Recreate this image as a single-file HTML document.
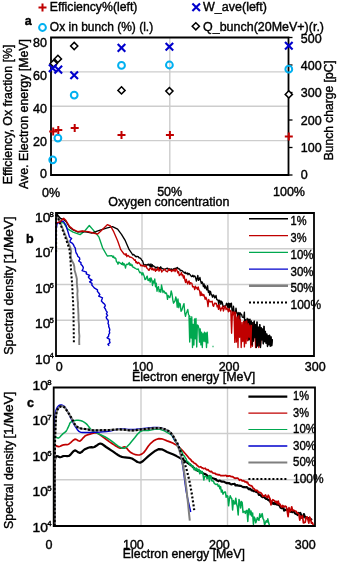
<!DOCTYPE html>
<html><head><meta charset="utf-8"><style>
html,body{margin:0;padding:0;background:#fff;width:342px;height:562px;overflow:hidden}
svg{display:block;will-change:transform}
text{font-family:"Liberation Sans", sans-serif;fill:#000;stroke:#000;stroke-width:0.4px}
</style></head><body>
<svg width="342" height="562" viewBox="0 0 342 562">
<line x1="51" y1="71.9" x2="288.5" y2="71.9" stroke="#cdcdcd" stroke-width="1.4"/>
<line x1="51" y1="106.2" x2="288.5" y2="106.2" stroke="#cdcdcd" stroke-width="1.4"/>
<line x1="51" y1="140.6" x2="288.5" y2="140.6" stroke="#cdcdcd" stroke-width="1.4"/>
<line x1="169.8" y1="37.5" x2="169.8" y2="175" stroke="#cdcdcd" stroke-width="1.4"/>
<path d="M51 37.5 H288.5 V175 H51 Z" fill="none" stroke="#000" stroke-width="1.8"/>
<line x1="288.5" y1="37.5" x2="292.5" y2="37.5" stroke="#000" stroke-width="1.3"/>
<line x1="288.5" y1="65" x2="292.5" y2="65" stroke="#000" stroke-width="1.3"/>
<line x1="288.5" y1="92.5" x2="292.5" y2="92.5" stroke="#000" stroke-width="1.3"/>
<line x1="288.5" y1="120" x2="292.5" y2="120" stroke="#000" stroke-width="1.3"/>
<line x1="288.5" y1="147.5" x2="292.5" y2="147.5" stroke="#000" stroke-width="1.3"/>
<line x1="288.5" y1="175" x2="292.5" y2="175" stroke="#000" stroke-width="1.3"/>
<path d="M53.7 59.9 L57.3 63.5 L53.7 67.1 L50.1 63.5 Z" stroke="#000" stroke-width="1.5" fill="#fff"/>
<path d="M57.9 55.3 L61.5 58.9 L57.9 62.5 L54.3 58.9 Z" stroke="#000" stroke-width="1.5" fill="#fff"/>
<path d="M74.2 42.4 L77.8 46 L74.2 49.6 L70.6 46 Z" stroke="#000" stroke-width="1.5" fill="#fff"/>
<path d="M121.5 86.8 L125.1 90.4 L121.5 94 L117.9 90.4 Z" stroke="#000" stroke-width="1.5" fill="#fff"/>
<path d="M169.4 87.5 L173 91.1 L169.4 94.7 L165.8 91.1 Z" stroke="#000" stroke-width="1.5" fill="#fff"/>
<path d="M288.8 90.8 L292.4 94.4 L288.8 98 L285.2 94.4 Z" stroke="#000" stroke-width="1.5" fill="#fff"/>
<path d="M48.9 64.4 L56.5 72 M48.9 72 L56.5 64.4" stroke="#0000cc" stroke-width="2.1" fill="none"/>
<path d="M54.5 65.8 L62.1 73.4 M54.5 73.4 L62.1 65.8" stroke="#0000cc" stroke-width="2.1" fill="none"/>
<path d="M70.4 71.4 L78 79 M70.4 79 L78 71.4" stroke="#0000cc" stroke-width="2.1" fill="none"/>
<path d="M117.7 44.1 L125.3 51.7 M117.7 51.7 L125.3 44.1" stroke="#0000cc" stroke-width="2.1" fill="none"/>
<path d="M165.6 42.9 L173.2 50.5 M165.6 50.5 L173.2 42.9" stroke="#0000cc" stroke-width="2.1" fill="none"/>
<path d="M285 41.9 L292.6 49.5 M285 49.5 L292.6 41.9" stroke="#0000cc" stroke-width="2.1" fill="none"/>
<circle cx="52.7" cy="159.8" r="3.4" stroke="#00b0f0" stroke-width="2" fill="none"/>
<circle cx="57.9" cy="138.1" r="3.4" stroke="#00b0f0" stroke-width="2" fill="none"/>
<circle cx="74.2" cy="95.1" r="3.4" stroke="#00b0f0" stroke-width="2" fill="none"/>
<circle cx="121.5" cy="65.4" r="3.4" stroke="#00b0f0" stroke-width="2" fill="none"/>
<circle cx="169.4" cy="65" r="3.4" stroke="#00b0f0" stroke-width="2" fill="none"/>
<circle cx="288.8" cy="69.2" r="3.4" stroke="#00b0f0" stroke-width="2" fill="none"/>
<path d="M49.2 131.5 H57.2 M53.2 127.5 V135.5" stroke="#c00000" stroke-width="2" fill="none"/>
<path d="M54.3 129.9 H62.3 M58.3 125.9 V133.9" stroke="#c00000" stroke-width="2" fill="none"/>
<path d="M70.7 128 H78.7 M74.7 124 V132" stroke="#c00000" stroke-width="2" fill="none"/>
<path d="M117.5 135 H125.5 M121.5 131 V139" stroke="#c00000" stroke-width="2" fill="none"/>
<path d="M165.9 135 H173.9 M169.9 131 V139" stroke="#c00000" stroke-width="2" fill="none"/>
<path d="M284.8 136.6 H292.8 M288.8 132.6 V140.6" stroke="#c00000" stroke-width="2" fill="none"/>
<path d="M38.5 7.4 H46.5 M42.5 3.4 V11.4" stroke="#c00000" stroke-width="2" fill="none"/>
<text x="49.8" y="11" font-size="12.5" text-anchor="start" font-weight="normal" textLength="87.6" lengthAdjust="spacingAndGlyphs">Efficiency%(left)</text>
<text x="24.8" y="24.5" font-size="12.5" text-anchor="start" font-weight="bold">a</text>
<circle cx="42.5" cy="27.5" r="3.4" stroke="#00b0f0" stroke-width="2" fill="none"/>
<text x="49.8" y="31" font-size="12.5" text-anchor="start" font-weight="normal" textLength="103.4" lengthAdjust="spacingAndGlyphs">Ox in bunch (%) (l.)</text>
<path d="M192.4 3.5 L200 11.1 M192.4 11.1 L200 3.5" stroke="#0000cc" stroke-width="2.1" fill="none"/>
<text x="203" y="11" font-size="12.5" text-anchor="start" font-weight="normal" textLength="64" lengthAdjust="spacingAndGlyphs">W_ave(left)</text>
<path d="M195.8 22.7 L199.4 26.3 L195.8 29.9 L192.2 26.3 Z" stroke="#000" stroke-width="1.5" fill="#fff"/>
<text x="203" y="31" font-size="12.5" text-anchor="start" font-weight="normal" textLength="121" lengthAdjust="spacingAndGlyphs">Q_bunch(20MeV+)(r.)</text>
<text x="47" y="46.9" font-size="12.5" text-anchor="end" font-weight="normal">80</text>
<text x="47" y="79.8" font-size="12.5" text-anchor="end" font-weight="normal">60</text>
<text x="47" y="112.8" font-size="12.5" text-anchor="end" font-weight="normal">40</text>
<text x="47" y="145.9" font-size="12.5" text-anchor="end" font-weight="normal">20</text>
<text x="47" y="178" font-size="12.5" text-anchor="end" font-weight="normal">0</text>
<text x="300.8" y="42.6" font-size="12.5" text-anchor="start" font-weight="normal">500</text>
<text x="300.8" y="69.9" font-size="12.5" text-anchor="start" font-weight="normal">400</text>
<text x="300.8" y="97.2" font-size="12.5" text-anchor="start" font-weight="normal">300</text>
<text x="300.8" y="124.5" font-size="12.5" text-anchor="start" font-weight="normal">200</text>
<text x="300.8" y="151.8" font-size="12.5" text-anchor="start" font-weight="normal">100</text>
<text x="300.8" y="179.1" font-size="12.5" text-anchor="start" font-weight="normal">0</text>
<text x="51" y="196.8" font-size="12.5" text-anchor="middle" font-weight="normal">0%</text>
<text x="169.7" y="196.4" font-size="12.5" text-anchor="middle" font-weight="normal">50%</text>
<text x="289" y="196.4" font-size="12.5" text-anchor="middle" font-weight="normal">100%</text>
<text x="108.2" y="206.2" font-size="12.5" text-anchor="start" font-weight="normal" textLength="121.2" lengthAdjust="spacingAndGlyphs">Oxygen concentration</text>
<text transform="translate(11.8,184.3) rotate(-90)" font-size="12.5" textLength="139.7" lengthAdjust="spacingAndGlyphs">Efficiency, Ox fraction [%]</text>
<text transform="translate(27.8,189) rotate(-90)" font-size="12.5" textLength="150" lengthAdjust="spacingAndGlyphs">Ave. Electron energy [MeV]</text>
<text transform="translate(332.6,160.3) rotate(-90)" font-size="12.5" textLength="100" lengthAdjust="spacingAndGlyphs">Bunch charge [pC]</text>
<line x1="56" y1="248.8" x2="314" y2="248.8" stroke="#cdcdcd" stroke-width="1.4"/>
<line x1="56" y1="284.5" x2="314" y2="284.5" stroke="#cdcdcd" stroke-width="1.4"/>
<line x1="56" y1="320.2" x2="314" y2="320.2" stroke="#cdcdcd" stroke-width="1.4"/>
<line x1="142" y1="213" x2="142" y2="356" stroke="#cdcdcd" stroke-width="1.4"/>
<line x1="228" y1="213" x2="228" y2="356" stroke="#cdcdcd" stroke-width="1.4"/>
<path d="M59 222.3 L63.7 222.9 L67.2 228.7 L73.1 232.2 L80.1 234.6 L84.7 231 L89.3 225.5 L94.4 231.4 L99 237.2 L102.6 247.8 L107.3 256 L112 255.7 L112.8 257.3 L113.5 256.1 L114.2 258 L115 257.8 L115.8 258.5 L116.5 261.8 L117.2 262.1 L118 264.2 L118.8 262 L119.5 262.7 L120.2 263.1 L121 263.6 L121.8 264.4 L122.5 262.5 L123.2 265.1 L124 263.5 L124.8 265.2 L125.5 268 L126.2 264.7 L127 264.1 L127.8 264.6 L128.5 263.8 L129.2 262.5 L130 265.4 L130.8 263.9 L131.5 265.8 L132.2 264.9 L133 267.4 L133.8 267.3 L134.5 268 L135.2 268.2 L136 268.8 L136.8 269.3 L137.5 269.4 L138.2 268.9 L139 271 L139.8 272.8 L140.5 272.3 L141.2 272.8 L142 275.1 L142.8 272.7 L143.5 274.4 L144.2 276.3 L145 279.5 L145.8 279.2 L146.5 277.2 L147.2 276.1 L148 280.4 L148.8 280.5 L149.5 278.5 L150.2 282.2 L151 277.8 L151.8 280 L152.5 285.5 L153.2 280.9 L154 283.1 L154.8 279 L155.5 286.8 L156.2 283.1 L157 291.3 L157.8 287.7 L158.5 286.6 L159.2 291.8 L160 289.7 L160.8 292.2 L161.5 285 L162.2 288.5 L163 292.5 L163.8 290.9 L164.5 291.7 L165.2 293.6 L166 292.8 L166.8 294.2 L167.5 299.4 L168.2 295.5 L169 297 L169.8 297.6 L170.5 295.3 L171.2 290.9 L172 293.9 L172.8 299.8 L173.5 303.2 L174.2 302.2 L175 300.8 L175.8 296.9 L176.5 299.7 L177.2 307.3 L178 299 L178.8 307.7 L179.5 303.2 L180.2 303.9 L181 311.3 L181.8 310.2 L182.5 308 L183.2 305.8 L184 303.6 L184.8 313.3 L185.5 316.4 L186.2 313.2 L187 311.6 L187.8 309.5 L188.5 314.5 L189.2 315.8 L190 316.7 L189 316.5 L189.7 342.1 L190.4 318.2 L191.1 338.1 L191.8 316.8 L192.5 347.5 L193.2 324.3 L193.9 345.1 L194.6 318.9 L195.3 338.8 L196 318.4 L196.7 347.1 L197.4 325 L198.1 325.5 L198.8 328.1 L199.5 342.1 L200.2 328.8 L200.9 344.9 L201.6 332.1 L202.3 347.5 L203 333.7 L203.7 341.1 L204.4 332.1 L205.1 341.7 L205.8 333 L206.5 347.5 L207.2 332.1 L207.9 343.5" fill="none" stroke="#00a84f" stroke-width="1.35" stroke-linejoin="round"/>
<path d="M212.5 346.5 L213.5 346.5" fill="none" stroke="#00a84f" stroke-width="1.5" stroke-linejoin="round"/>
<path d="M55.8 260 L55.8 232 L57 224 L60 221.5 L63.1 221.1 L66 225.2 L69.5 236.9 L69.5 237 L71.6 238.6 L70.2 240.2 L70 241.8 L72.5 243.4 L73.6 245 L74.3 246.6 L75.3 248.2 L75.5 249.8 L75.7 251.4 L76.2 253 L77.3 254.6 L77.7 256.2 L79.5 257.8 L79.8 259.4 L78.7 261 L81 262.6 L80.9 264.2 L82.4 265.8 L83.3 267.4 L83 269 L82.1 270.6 L86.5 272.2 L86.2 273.8 L89.7 275.4 L88.4 277 L89.5 278.6 L92 280.2 L89.6 281.8 L92 283.4 L91.8 285 L93.2 286.6 L94.6 288.2 L97.5 289.8 L97.4 291.4 L98.8 293 L99.9 294.6 L98.7 296.2 L102.5 297.8 L101.9 299.4 L101.4 301 L102.8 302.6 L104.7 304.2 L105.3 305.8 L104.2 307.4 L105.4 309 L106 310.6 L107.2 312.2 L106.4 313.8 L107.6 315.4 L106.2 317 L106.6 318.6 L108.1 320.2 L108.4 321.8 L108 323.4 L108.8 325 L108.7 326.6 L109.4 328.2 L109.8 329.8 L109.3 331.4 L109.7 333 L108.7 334.6 L108.6 336.2 L107.1 337.8 L109.7 339.4 L109.4 341 L110 342.6 L107.9 344.2 L109.2 345.8" fill="none" stroke="#0000cc" stroke-width="1.4" stroke-linejoin="round"/>
<path d="M57 214.5 L58.4 218.2 L64.5 233 L70.7 248.6 L70.7 249 L71.2 252 L70.7 255 L70.7 258 L72.1 261 L73.7 264 L74.4 267 L74.5 270 L75.4 273 L76.2 276 L76.9 279 L76.8 282 L77 285 L77.3 288 L77.6 291 L77.3 294 L77.5 297 L77.6 300 L78 303 L77.9 306 L78.2 309 L78.3 312 L78.5 315 L78.5 318 L78.6 321 L78.9 324 L79 327 L78.9 330 L79.1 333 L79.4 336 L79.2 339 L79.2 342 L79.3 345" fill="none" stroke="#808080" stroke-width="1.9" stroke-linejoin="round"/>
<path d="M56.1 252 L56.1 214.7" fill="none" stroke="#000" stroke-width="2" stroke-linejoin="round" stroke-dasharray="2 2"/>
<path d="M56.7 214.7 L63 231 L69.3 248.6 L70.5 260 L71 270 L72.2 285.1 L73.4 308.5 L73.9 343.6" fill="none" stroke="#000" stroke-width="2" stroke-linejoin="round" stroke-dasharray="2 2"/>
<path d="M56.5 213.5 L58 215.5 L60.5 218.5 L63.7 219.5 L66 221.5 L69.5 227.2 L73.1 230 L77.7 232 L82.4 231.5 L87.1 232 L91.8 233 L95.7 231.7 L100.9 229.8 L107.3 227.9 L112.5 226.6 L117.6 229.2 L121.5 234.3 L125.3 240.7 L129.2 249.7 L132 253.7 L132.7 255 L133.4 254.4 L134.1 254.9 L134.8 255.5 L135.5 256.5 L136.2 256.9 L136.9 256.3 L137.6 256.5 L138.3 256.6 L139 257.8 L139.7 257.9 L140.4 258.3 L141.1 259 L141.8 260.3 L142.5 260.8 L143.2 262.9 L143.9 265.3 L144.6 264.8 L145.3 264.5 L146 265.6 L146.7 264.8 L147.4 264.4 L148.1 265.2 L148.8 264 L149.5 264.7 L150.2 266.9 L150.9 264 L151.6 267.1 L152.3 264.7 L153 266.2 L153.7 266 L154.4 266.6 L155.1 267 L155.8 268 L156.5 267.8 L157.2 267 L157.9 268.7 L158.6 267.5 L159.3 267.7 L160 269.5 L160.7 266.8 L161.4 268.1 L162.1 268.5 L162.8 268.6 L163.5 269.1 L164.2 269.9 L164.9 269 L165.6 269.2 L166.3 268.4 L167 268.3 L167.7 268.2 L168.4 269.8 L169.1 268.8 L169.8 269.1 L170.5 269.7 L171.2 269 L171.9 269.1 L172.6 270.1 L173.3 269.2 L174 268.6 L174.7 268.5 L175.4 268.8 L176.1 268 L176.8 268.3 L177.5 267.5 L178.2 268.6 L178.9 269 L179.6 269 L180.3 270.7 L181 270.4 L181.7 270.5 L182.4 270.8 L183.1 271.9 L183.8 272.1 L184.5 273 L185.2 272.1 L185.9 273.6 L186.6 273.5 L187.3 273 L188 274.7 L188.7 273.4 L189.4 273.9 L190.1 274.8 L190.8 275.6 L191.5 276.5 L192.2 276.3 L192.9 275.2 L193.6 276.9 L194.3 276 L195 276.1 L195.7 278.2 L196.4 281.1 L197.1 278.3 L197.8 275.4 L198.5 280.3 L199.2 279.4 L199.9 277.5 L200.6 280.9 L201.3 283.4 L202 281.8 L202.7 283.1 L203.4 286.7 L204.1 284 L204.8 288.1 L205.5 285.9 L206.2 288.7 L206.9 290 L207.6 285.7 L208.3 292.3 L209 290.7 L209.7 295.2 L210.4 291.3 L211.1 293.8 L211.8 295.1 L212.5 297.2 L213.2 294.9 L213.9 295.3 L214.6 297.8 L215.3 297.4 L216 295.4 L216.7 299.4 L217.4 300 L218.1 300 L218.8 304.7 L219.5 300.3 L220.2 300.9 L220.9 304.3 L221.6 301.2 L222.3 302.5 L223 306.2 L223.7 306.5 L224.4 306.1 L225.1 305.8 L225.8 305.9 L226.5 303.3 L227.2 303.8 L227.9 307.5 L228.6 303.2 L229.3 309.1 L230 303.4 L230.7 306.9 L231.4 303.1 L232.1 311.1 L232.8 312.9 L233.5 306.2 L234.2 313.4 L234.9 313.8 L235.6 311.6 L236 308.1 L236.7 313.1 L237.4 313 L238.1 321.8 L238.8 312.5 L239.5 323.1 L240.2 312.8 L240.9 313.9 L241.6 314.5 L242.3 317.1 L243 317.4 L243.7 317.7 L244.4 312.1 L245.1 337.7 L245.8 319.7 L246.5 338.5 L247.2 318.3 L247.9 340.6 L248.6 319.1 L249.3 339.8 L250 319.1 L250.7 336.8 L251.4 320.9 L252.1 345.2 L252.8 322.6 L253.5 341.1 L254.2 321.1 L254.9 337.6 L255.6 324.5 L256.3 347.5 L257 322 L257.7 345.9 L258.4 327.1 L259.1 345.8 L259.8 324.6 L260.5 347.5 L261.2 327.7 L261.9 339.9 L262.6 329 L263.3 343.8 L264 326.3 L264.7 341.7 L265.4 331.4 L266.1 343.2 L266.8 334 L267.5 346.5 L268.2 335.6 L268.9 344.7 L269.6 335.2 L270.3 346.1 L271 336.9 L271.7 345.7 L272.4 339.3" fill="none" stroke="#000" stroke-width="1.35" stroke-linejoin="round"/>
<path d="M56.7 222.9 L60.2 221.7 L63.7 218.2 L66 220.5 L69.5 226.4 L73.1 229.3 L77.7 231.6 L82.4 231 L88 231.7 L93.1 233 L97.7 234 L100.9 231 L107.3 224.7 L110.5 226 L113.7 231.7 L117.6 240.7 L120.8 249.7 L124 254 L124.7 254.2 L125.4 255.1 L126.1 253.6 L126.8 256.7 L127.5 255.4 L128.2 255.4 L128.9 256.2 L129.6 257 L130.3 257 L131 257.4 L131.7 257.4 L132.4 258 L133.1 258.5 L133.8 259.4 L134.5 260.3 L135.2 259.7 L135.9 262.6 L136.6 261.7 L137.3 263.5 L138 262.8 L138.7 262.4 L139.4 263.6 L140.1 264.2 L140.8 265.7 L141.5 265.1 L142.2 266 L142.9 265.1 L143.6 266.1 L144.3 266.2 L145 266.8 L145.7 265.5 L146.4 266.7 L147.1 268.5 L147.8 268.8 L148.5 270.1 L149.2 270.3 L149.9 268.1 L150.6 267.8 L151.3 269 L152 269.8 L152.7 267.9 L153.4 270.1 L154.1 270 L154.8 268.7 L155.5 271.3 L156.2 269.6 L156.9 270.4 L157.6 269 L158.3 267.6 L159 271.2 L159.7 270.2 L160.4 269.1 L161.1 269.5 L161.8 272 L162.5 270.9 L163.2 270.5 L163.9 269.9 L164.6 269.3 L165.3 269.3 L166 271.2 L166.7 271.5 L167.4 271.9 L168.1 270.3 L168.8 269 L169.5 270.4 L170.2 269.9 L170.9 270.6 L171.6 271.5 L172.3 270 L173 270.9 L173.7 270.7 L174.4 269.2 L175.1 271.6 L175.8 269.4 L176.5 269.1 L177.2 271 L177.9 273 L178.6 271.6 L179.3 275.6 L180 275 L180.7 274.2 L181.4 272.4 L182.1 275.7 L182.8 274.7 L183.5 278 L184.2 275.8 L184.9 280.3 L185.6 282.5 L186.3 279.3 L187 282.1 L187.7 284 L188.4 281.5 L189.1 280.9 L189.8 284.4 L190.5 282.6 L191.2 283 L191.9 283.4 L192.6 286.8 L193.3 286.4 L194 287.1 L194.7 289.6 L195.4 286.1 L196.1 288 L196.8 287.6 L197.5 289.6 L198.2 287 L198.9 289.8 L199.6 290.7 L200.3 295.7 L201 292 L201.7 295.4 L202.4 294 L203.1 295.8 L203.8 294.5 L204.5 296.8 L205.2 299.3 L205.9 297.2 L206.6 299 L207.3 301.2 L208 306.6 L208.7 299.5 L209.4 301.6 L210.1 301.9 L210.8 301.4 L211.5 301.9 L212.2 301.3 L212.9 305.5 L213.6 306.4 L214.3 303.9 L215 303 L215.7 303.9 L216.4 303.4 L217.1 306.9 L217.8 305.4 L218.5 309.4 L219.2 304.6 L219.9 307.9 L220.6 310.9 L221.3 308.1 L222 308.5 L222.7 306.2 L223.4 311 L224.1 308.7 L224.8 306.6 L225.5 306.1 L226 309.6 L226.8 308.1 L227.6 309.2 L228.4 311.8 L229.2 308.7 L230 311.3 L230.8 310.7 L231.6 333.2 L232.4 312 L233.2 314.8 L234 311.8 L234.8 342.4 L235.6 312.3 L236.4 342 L237.2 317 L238 347.5 L238.8 315.6 L239.6 337.3 L240.4 319.5 L241.2 347.5 L242 322.5 L242.8 341.5 L243.6 321.3 L244.4 346.9 L245.2 321.5 L246 343.6 L246.8 320.8 L247.6 340.6 L248.4 323.7 L249.2 337.2 L250 325.2 L250.8 347.5 L251.6 325.4 L252.4 346.3 L253.2 323.3 L254 330.1 L254.8 327.8 L255.6 347.5 L256.4 330 L257.2 333 L258 330.7 L258.8 347.5 L259.6 331.6 L260.4 345.9 L261.2 333.2" fill="none" stroke="#c00000" stroke-width="1.35" stroke-linejoin="round"/>
<path d="M252.1 345.2 L252.8 322.6 L253.5 341.1 L254.2 321.1 L254.9 337.6 L255.6 324.5 L256.3 347.5 L257 322 L257.7 345.9 L258.4 327.1 L259.1 345.8 L259.8 324.6 L260.5 347.5 L261.2 327.7 L261.9 339.9 L262.6 329 L263.3 343.8 L264 326.3 L264.7 341.7 L265.4 331.4 L266.1 343.2 L266.8 334 L267.5 346.5 L268.2 335.6 L268.9 344.7 L269.6 335.2 L270.3 346.1 L271 336.9 L271.7 345.7 L272.4 339.3" fill="none" stroke="#000" stroke-width="1.1" stroke-linejoin="round"/>
<path d="M56 213 H314 V356 H56 Z" fill="none" stroke="#000" stroke-width="1.8"/>
<path d="M249 218.8 H288" fill="none" stroke="#000" stroke-width="1.5" stroke-linejoin="round"/>
<text x="290.6" y="225.4" font-size="12.5" text-anchor="start" font-weight="normal" textLength="16" lengthAdjust="spacingAndGlyphs">1%</text>
<path d="M249 235.6 H288" fill="none" stroke="#c00000" stroke-width="1.3" stroke-linejoin="round"/>
<text x="290.6" y="242.2" font-size="12.5" text-anchor="start" font-weight="normal" textLength="16" lengthAdjust="spacingAndGlyphs">3%</text>
<path d="M249 252.3 H288" fill="none" stroke="#00a84f" stroke-width="1.3" stroke-linejoin="round"/>
<text x="290.6" y="258.9" font-size="12.5" text-anchor="start" font-weight="normal" textLength="23" lengthAdjust="spacingAndGlyphs">10%</text>
<path d="M249 269.1 H288" fill="none" stroke="#0000cc" stroke-width="1.3" stroke-linejoin="round"/>
<text x="290.6" y="275.7" font-size="12.5" text-anchor="start" font-weight="normal" textLength="23" lengthAdjust="spacingAndGlyphs">30%</text>
<path d="M249 285.8 H288" fill="none" stroke="#808080" stroke-width="2.5" stroke-linejoin="round"/>
<text x="290.6" y="292.4" font-size="12.5" text-anchor="start" font-weight="normal" textLength="23" lengthAdjust="spacingAndGlyphs">50%</text>
<path d="M249 302.6 H288" fill="none" stroke="#000" stroke-width="2" stroke-linejoin="round" stroke-dasharray="2 2"/>
<text x="290.6" y="309.2" font-size="12.5" text-anchor="start" font-weight="normal" textLength="30.5" lengthAdjust="spacingAndGlyphs">100%</text>
<text x="35" y="222.1" font-size="12.5" text-anchor="start" font-weight="normal" textLength="15.3" lengthAdjust="spacingAndGlyphs">10</text>
<text x="49.5" y="216.9" font-size="7.8" text-anchor="start" font-weight="normal">8</text>
<text x="35" y="256.9" font-size="12.5" text-anchor="start" font-weight="normal" textLength="15.3" lengthAdjust="spacingAndGlyphs">10</text>
<text x="49.5" y="251.7" font-size="7.8" text-anchor="start" font-weight="normal">7</text>
<text x="35" y="292.8" font-size="12.5" text-anchor="start" font-weight="normal" textLength="15.3" lengthAdjust="spacingAndGlyphs">10</text>
<text x="49.5" y="287.6" font-size="7.8" text-anchor="start" font-weight="normal">6</text>
<text x="35" y="328.4" font-size="12.5" text-anchor="start" font-weight="normal" textLength="15.3" lengthAdjust="spacingAndGlyphs">10</text>
<text x="49.5" y="323.2" font-size="7.8" text-anchor="start" font-weight="normal">5</text>
<text x="35" y="363.6" font-size="12.5" text-anchor="start" font-weight="normal" textLength="15.3" lengthAdjust="spacingAndGlyphs">10</text>
<text x="49.5" y="358.4" font-size="7.8" text-anchor="start" font-weight="normal">4</text>
<text x="59.3" y="371.4" font-size="12.5" text-anchor="middle" font-weight="normal">0</text>
<text x="142.8" y="371.4" font-size="12.5" text-anchor="middle" font-weight="normal">100</text>
<text x="229.1" y="371.4" font-size="12.5" text-anchor="middle" font-weight="normal">200</text>
<text x="315.2" y="371.4" font-size="12.5" text-anchor="middle" font-weight="normal">300</text>
<text x="132" y="380.9" font-size="12.5" text-anchor="start" font-weight="normal" textLength="123.2" lengthAdjust="spacingAndGlyphs">Electron energy [MeV]</text>
<text x="26" y="243" font-size="12.5" text-anchor="start" font-weight="bold">b</text>
<text transform="translate(13.2,354.7) rotate(-90)" font-size="12.5" textLength="88.6" lengthAdjust="spacingAndGlyphs">Spectral density</text>
<text transform="translate(13.2,263.2) rotate(-90)" font-size="12.5" textLength="46.8" lengthAdjust="spacingAndGlyphs">[1/MeV]</text>
<line x1="53.7" y1="433.5" x2="315" y2="433.5" stroke="#cdcdcd" stroke-width="1.4"/>
<line x1="53.7" y1="479.8" x2="315" y2="479.8" stroke="#cdcdcd" stroke-width="1.4"/>
<line x1="141" y1="387.5" x2="141" y2="526" stroke="#cdcdcd" stroke-width="1.4"/>
<line x1="227.5" y1="387.5" x2="227.5" y2="526" stroke="#cdcdcd" stroke-width="1.4"/>
<path d="M54.4 526 L54.4 509.8 L54.5 487.3 L54.6 470 L54.7 463 L54.8 461 L55 459.8 L55.4 457.9 L56 456.7 L56.8 456 L57.7 456.2 L58.8 456.9 L60 457.3 L61.1 457 L62.4 456.4 L63.7 456 L65.4 456 L67.2 456.1 L68.7 456 L69.6 455.5 L70.2 454.9 L71 454 L72.1 452.7 L73.5 451.2 L74.9 450.4 L76.5 451 L78.2 452.3 L79.9 452.9 L81.6 452.1 L83.2 450.5 L84.9 449.2 L86.6 448.4 L88.3 447.7 L89.9 447.3 L91.4 447.2 L92.8 447.3 L94.4 447 L96.3 445.8 L98.3 444.3 L100.3 443.5 L102.2 444.1 L104.1 445.5 L106.1 447 L108.4 448.5 L110.8 450.1 L113.2 451.7 L115.6 453.4 L118 455 L120.2 456.3 L121.9 456.9 L123.3 457.1 L125 457.3 L127.1 457.6 L129.5 457.9 L132 458.5 L134.6 460.1 L137.4 462 L140.2 462.7 L142.8 461.3 L145.5 458.7 L148.4 456.1 L151.8 453.4 L155.5 450.7 L158.9 449.1 L161.8 449.3 L164.4 450.5 L167.1 451.9 L170.2 453.2 L173.4 454.6 L176.5 456.1 L179.3 457.6 L181.9 459.1 L184.6 460.8 L187.6 462.9 L190.7 465.1 L192.8 466.7 L195 469.2 L195.9 469.9 L196.8 470 L197.7 471 L198.6 470.6 L199.5 471.3 L200.4 471.7 L201.3 472.2 L202.2 472.7 L203.1 473.3 L204 474 L204.9 473.8 L205.8 474.4 L206.7 475.1 L207.6 475.9 L208.5 476.5 L209.4 476 L210.3 477 L211.2 477.4 L212.1 477.9 L213 478.3 L213.9 478.5 L214.8 479.2 L215.7 479 L216.6 480.3 L217.5 480.6 L218.4 481.2 L219.3 480.5 L220.2 480.7 L221.1 481.4 L222 481.6 L222.9 481.7 L223.8 481.5 L224.7 482.2 L225.6 482.5 L226.5 483.1 L227.4 483 L228.3 483.3 L229.2 483 L230.1 483.9 L231 484.4 L231.9 484.3 L232.8 484 L233.7 484 L234.6 483.8 L235.5 485.5 L236.4 485.4 L237.3 485 L238.2 485.7 L239.1 485.6 L240 486 L240.9 485.8 L241.8 486.4 L242.7 486.9 L243.6 487.2 L244.5 487.2 L245.4 487.3 L246.3 487.1 L247.2 487.4 L248.1 488.4 L249 489.3 L249.9 488.7 L250.8 489.3 L251.7 490.5 L252.6 490.4 L253.5 491.1 L254.4 491.2 L255.3 491 L256.2 492 L257.1 492.2 L258 492.5 L258.9 494.8 L259.8 494.9 L260.7 495.4 L261.6 496.5 L262.5 497.2 L263.4 496.4 L264.3 497.3 L265.2 498.2 L266.1 498.9 L267 498.9 L267.9 499.6 L268.8 500.4 L269.7 499.7 L270.6 502.4 L271.5 502.4 L272.4 502.4 L273.3 503.9 L274.2 502.8 L275.1 504.1 L276 503.3 L276.9 504.6 L277.8 504.4 L278.7 505 L279.6 505.6 L280.5 507.6 L281.4 508.2 L282.3 507.9 L283.2 506.7 L284.1 510.6 L285 510.1 L285.9 509.8 L286.8 509.4 L287.7 509.8 L288.6 509.4 L289.5 510.5 L290.4 511.8 L291.3 511.6 L292.2 512.2 L293.1 510.6 L294 511.5 L294.9 513.4 L295.8 513.9 L296.7 513.9 L297.6 515 L298.5 512.9 L299.4 513.4 L300.3 513 L301.2 515.2 L302.1 517.8 L303 517.2 L303.9 514 L304.8 516.5 L305.7 518.2 L306.6 517.3 L307.5 518 L308.4 518.6 L309.3 517.8 L310.2 519.3 L311.1 519.2 L312 520" fill="none" stroke="#000" stroke-width="2.2" stroke-linejoin="round"/>
<path d="M54.4 526 L54.4 510 L54.5 487.8 L54.6 470 L54.7 461.2 L54.8 456.9 L55 453.5 L55.1 450 L55.2 447.6 L55.6 446 L56.4 445.7 L57.4 446.4 L58.7 446.7 L60.2 446.2 L62 445.4 L63.7 444.8 L65.3 444.7 L66.9 444.7 L68.7 444.2 L70.7 442.6 L72.9 440.5 L74.9 439.2 L76.7 439.6 L78.3 440.7 L79.9 441.1 L81.6 439.8 L83.2 437.8 L84.9 436.1 L86.5 435.2 L88.1 434.6 L89.9 434.1 L92.1 433.5 L94.4 432.9 L96.8 433 L99.1 434.1 L101.4 435.8 L103.8 437.6 L106.4 439.5 L109.2 441.6 L112 443.5 L114.9 445.4 L117.7 447.1 L120.2 448.2 L122 447.9 L123.5 447 L125 446.8 L126.8 448.3 L128.7 450.7 L130.8 452.6 L133.1 453.8 L135.6 454.7 L137.9 455 L139.9 454.8 L141.7 454.1 L143.7 452.6 L145.9 449.8 L148.2 446.3 L150.7 443.3 L153.3 441.1 L156.1 439.5 L158.9 438.6 L161.6 438.8 L164.4 439.8 L167.1 440.9 L169.9 441.9 L172.7 443 L175.3 444.4 L177.7 446.1 L180 448.1 L182.3 450.3 L184.9 453.2 L187.5 456.3 L189.3 458.5 L190 458.9 L190.9 459.8 L191.8 461.3 L192.7 461.5 L193.6 462.6 L194.5 463.3 L195.4 463.6 L196.3 464.4 L197.2 465.5 L198.1 466.1 L199 467 L199.9 467 L200.8 466.7 L201.7 467.8 L202.6 467.8 L203.5 468.6 L204.4 468.5 L205.3 468.2 L206.2 469.5 L207.1 469.9 L208 469.6 L208.9 470.8 L209.8 471.4 L210.7 471.8 L211.6 471.4 L212.5 472.9 L213.4 473 L214.3 473.4 L215.2 473.3 L216.1 474.5 L217 474.3 L217.9 474.9 L218.8 474.6 L219.7 474.9 L220.6 475.6 L221.5 475.6 L222.4 475.6 L223.3 475.5 L224.2 475.7 L225.1 475.5 L226 475.4 L226.9 476.3 L227.8 475.9 L228.7 476.1 L229.6 475.8 L230.5 476.4 L231.4 476.6 L232.3 476.6 L233.2 477 L234.1 477.8 L235 478.4 L235.9 478 L236.8 478.2 L237.7 478 L238.6 479 L239.5 480.4 L240.4 479.5 L241.3 479.8 L242.2 481 L243.1 480.7 L244 480.9 L244.9 481.8 L245.8 481.6 L246.7 482.6 L247.6 482.2 L248.5 484.5 L249.4 485 L250.3 485.7 L251.2 485.7 L252.1 486.2 L253 488.2 L253.9 488.6 L254.8 489.6 L255.7 490.7 L256.6 490.2 L257.5 490.5 L258.4 492.5 L259.3 492.2 L260.2 492.6 L261.1 493 L262 494.3 L262.9 496.3 L263.8 495.7 L264.7 495.8 L265.6 495 L266.5 497 L267.4 497.6 L268.3 495.2 L269.2 497.1 L270.1 499.1 L271 504.8 L271.9 500.9 L272.8 499.7 L273.7 500.3 L274.6 500.7 L275.5 502.2 L276.4 501.5 L277.3 503.7 L278.2 501 L279.1 504.3 L280 504.1 L280.9 506.2 L281.8 507.1 L282.7 505.5 L283.6 507 L284.5 506.4 L285.4 506.2 L286.3 506.8 L287.2 511.1 L288.1 516.7 L289 507.6 L289.9 511.5 L290.8 510.1 L291.7 506.8 L292.6 510.7 L293.5 510.3 L294.4 510.6 L295.3 511 L296.2 511.3 L297.1 513.1 L298 513.2 L298.9 514.3 L299.8 520.1 L300.7 516.2 L301.6 517.6 L302.5 515.8 L303.4 522.8 L304.3 522.7 L305.2 522.3 L306.1 517.6 L307 516.8 L307.9 519.5 L308.8 523.1 L309.7 517.2 L310.6 519.4 L311.5 523.2 L312.4 522.7 L313.3 525" fill="none" stroke="#c00000" stroke-width="1.7" stroke-linejoin="round"/>
<path d="M54.4 526 L54.5 503.8 L54.5 473.1 L54.6 450 L54.6 442.3 L54.6 442.1 L54.7 442.3 L54.9 440.2 L55.1 438.4 L55.6 437.3 L56.4 437.3 L57.5 437.9 L58.7 438 L59.9 437 L61.2 435.6 L62.5 434.2 L63.8 433.2 L65.1 432.2 L66.2 431.1 L67.1 429.5 L68 427.7 L68.7 426.1 L69.3 424.7 L69.7 423.5 L70.5 422.4 L71.8 421.6 L73.3 420.9 L74.9 420.5 L76.6 420.3 L78.3 420.3 L79.9 420.5 L81.2 420.8 L82.4 421.2 L83.6 421.8 L84.8 422.6 L86.1 423.6 L87.4 424.9 L88.8 426.7 L90.3 428.8 L92.1 430.6 L94.2 431.9 L96.5 432.9 L99.1 434.1 L102.1 435.5 L105.3 437 L108.5 438.8 L111.7 441.1 L114.9 443.7 L117.8 445.8 L120.3 447.3 L122.6 448.3 L124.9 448.2 L127.2 446.6 L129.6 443.9 L132 441 L134.7 437.7 L137.4 434.2 L140.2 431.6 L142.8 430.6 L145.4 430.5 L148.4 430.4 L152 429.7 L156 429.1 L160 429.2 L164.4 430.9 L168.7 433.3 L171.8 435.1 L175 441.2 L175.8 442 L176.6 442.6 L177.4 446 L178.2 446.8 L179 447 L179.8 448.7 L180.6 449.7 L181.4 450.9 L182.2 452.8 L183 454.6 L183.8 455.6 L184.6 456.5 L185.4 457.9 L186.2 458.9 L187 461.8 L187.8 461.8 L188.6 462.3 L189.4 464.3 L190.2 463.7 L191 465.2 L191.8 466.7 L192.6 465.7 L193.4 467.4 L194.2 469.7 L195 468.2 L195.8 470.4 L196.6 468.1 L197.4 469.7 L198.2 471.5 L199 469.3 L199.8 473.8 L200.6 470.7 L201.4 473.3 L202.2 471.5 L203 474.4 L203.8 480 L204.6 476.4 L205.4 476 L206.2 476.6 L207 478.7 L207.8 477.9 L208.6 475.7 L209.4 481.4 L210.2 475.6 L211 475.9 L211.8 480.8 L212.6 481.1 L213.4 481.1 L214.2 483.2 L215 483.9 L215.8 484.4 L216.6 484.4 L217.4 484 L218.2 486.2 L219 485.2 L219.8 488.7 L220.6 486.6 L221.4 492.1 L222.2 490.1 L223 494.2 L223.8 492.7 L224.6 492 L225.4 491.9 L226.2 497.3 L227 495.6 L227.8 496.3 L228.6 505.8 L229.4 499.2 L230.2 495.8 L231 497.8 L231.8 498.8 L232.6 510 L233.4 500.5 L234.2 503.7 L235 503.9 L235.8 498.2 L236.6 504 L237.4 506.9 L238.2 515 L239 499.4 L239.8 502.3 L240.6 508 L241.4 501.5 L242.2 502.6 L243 512.5 L243.8 511.4 L244.6 511.5 L245.4 513.4 L246.2 510.6 L247 510.5 L247.8 521.4 L248.6 509 L249.4 509.1 L250.2 514.8 L251 511 L251.8 516.1 L252.6 512.9 L253.4 524.3 L254.2 517.1 L255 518.6 L255.8 522.8 L256.6 520.1 L257.4 517.6 L258.2 519.7 L259 520.3 L259.8 513.8 L260.6 517.3 L261.4 516.1 L262.2 513.6 L263 518.6 L263.8 519.9 L264.6 525 L265.4 522.7 L266.2 520.8 L267 522.2 L267.8 518.8 L268.6 522.8 L269.4 525" fill="none" stroke="#00a84f" stroke-width="1.5" stroke-linejoin="round"/>
<path d="M54.4 526 L54.4 501.3 L54.4 467.1 L54.5 440 L54.5 427.7 L54.6 422.5 L54.8 418.7 L55.1 414.6 L55.6 411.8 L56.3 409.5 L57.2 407.5 L58.3 406.1 L59.5 405.2 L60.7 404.9 L62 405.1 L63.2 405.6 L64.2 406.3 L65.1 407.4 L66.2 409 L67.6 411.5 L69.1 414.5 L70.5 417.4 L71.8 420 L73 422.5 L74.3 424.9 L75.7 427.2 L77.2 429.4 L78.6 431.1 L79.8 431.9 L80.9 432.2 L82.4 432.4 L84.5 432.5 L87.1 432.5 L89.9 432.4 L93.1 432.3 L96.5 432.2 L100 432 L103.3 431.7 L106.7 431.4 L110 431 L113.3 430.3 L116.7 429.5 L120.2 429 L124 429 L128 429.4 L132 429.5 L135.8 429.3 L139.6 428.9 L143.7 428.5 L148.5 428.1 L153.5 427.6 L157.7 427.5 L160.6 427.8 L162.8 428.4 L164.8 429.2 L166.9 430.2 L168.8 431.3 L170.6 433 L172.3 435.4 L173.9 438.3 L175.3 441 L176.5 442.6 L177.6 444 L178.8 446.8 L180.1 452 L181.5 458.7 L182.8 466 L183.9 473.7 L184.9 482 L186 490 L187.6 498.3 L189.4 506.4 L190.7 512" fill="none" stroke="#0000cc" stroke-width="1.5" stroke-linejoin="round"/>
<path d="M54.6 526 L54.6 509 L54.5 485.3 L54.6 464.7 L54.8 451.3 L55 441 L55.3 432.4 L55.5 424.9 L55.8 419.1 L56.2 414.5 L56.7 411.5 L57.4 409.8 L58.2 408.5 L59.1 407.4 L60.2 406.7 L61.2 406.3 L62.2 406.2 L63.2 406.5 L64.3 407.2 L65.5 408.5 L66.7 410.4 L68 412.3 L69.3 414.3 L70.5 416.4 L71.8 418.5 L73 420.8 L74.1 423.2 L75.4 425.2 L76.8 426.6 L78.4 427.6 L80.2 428.3 L82.5 428.8 L85.1 429 L87.4 429.2 L88.7 429.6 L89.8 429.9 L92.1 430.2 L96.9 430.3 L102.9 430.2 L108.5 430.1 L112.7 429.8 L116.5 429.5 L120.2 429.4 L124.1 429.7 L128.1 430.2 L132 430.4 L135.8 430.2 L139.6 429.7 L143.7 429.2 L148.5 428.7 L153.5 428.3 L157.7 428.1 L160.6 428.2 L162.8 428.6 L164.8 429.2 L166.9 430.1 L168.8 431.2 L170.6 432.7 L172.2 434.5 L173.7 436.6 L175.3 439.8 L177.2 444.4 L179.2 449.9 L181 455.8 L182.4 461.9 L183.6 468.3 L184.6 475 L185.5 481.7 L186.4 488.7 L187.2 496 L188.2 504.9 L189.1 514.2 L189.8 520.7" fill="none" stroke="#7f7f7f" stroke-width="2.0" stroke-linejoin="round"/>
<path d="M54.6 526 L54.6 509 L54.5 485.3 L54.6 464.7 L54.8 451.3 L55 441 L55.3 432.4 L55.5 424.9 L55.8 419.1 L56.2 414.5 L56.7 411.5 L57.4 409.8 L58.2 408.5 L59.1 407.4 L60.2 406.7 L61.2 406.3 L62.2 406.2 L63.2 406.5 L64.3 407.2 L65.5 408.5 L66.7 410.4 L68 412.3 L69.3 414.3 L70.5 416.4 L71.8 418.5 L73 420.8 L74.1 423.2 L75.4 425.2 L76.8 426.6 L78.4 427.6 L80.2 428.3 L82.5 428.8 L85.1 429 L87.4 429.2 L88.7 429.6 L89.8 429.9 L92.1 430.2 L96.9 430.3 L102.9 430.2 L108.5 430.1 L112.7 429.8 L116.5 429.5 L120.2 429.4 L124.1 429.7 L128.1 430.2 L132 430.4 L135.8 430.2 L139.6 429.7 L143.7 429.2 L148.5 428.7 L153.5 428.3 L157.7 428.1 L160.6 428.2 L162.8 428.6 L164.8 429.2 L166.9 430.1 L168.8 431.2 L170.6 432.7 L172.3 434.9 L174 437.6 L175.3 439.8 L176.1 440.9 L176.6 441.6 L177.5 443.5 L179 447.3 L180.9 452.2 L182.8 457.5 L184.6 463.1 L186.4 469 L188 475 L189.4 480.9 L190.5 486.7 L191.6 492.6 L192.6 499.1 L193.6 505.6 L194.2 510.2" fill="none" stroke="#000" stroke-width="2.2" stroke-linejoin="round" stroke-dasharray="2 2"/>
<path d="M53.7 387.5 H315 V526 H53.7 Z" fill="none" stroke="#000" stroke-width="1.8"/>
<path d="M248.4 396.6 H287.3" fill="none" stroke="#000" stroke-width="2.2" stroke-linejoin="round"/>
<text x="293" y="400.2" font-size="12.5" text-anchor="start" font-weight="normal" textLength="16" lengthAdjust="spacingAndGlyphs">1%</text>
<path d="M248.4 413.1 H287.3" fill="none" stroke="#c00000" stroke-width="1.2" stroke-linejoin="round"/>
<text x="293" y="416.7" font-size="12.5" text-anchor="start" font-weight="normal" textLength="16" lengthAdjust="spacingAndGlyphs">3%</text>
<path d="M248.4 429.5 H287.3" fill="none" stroke="#00a84f" stroke-width="1.2" stroke-linejoin="round"/>
<text x="293" y="433.1" font-size="12.5" text-anchor="start" font-weight="normal" textLength="23" lengthAdjust="spacingAndGlyphs">10%</text>
<path d="M248.4 446 H287.3" fill="none" stroke="#0000cc" stroke-width="1.3" stroke-linejoin="round"/>
<text x="293" y="449.6" font-size="12.5" text-anchor="start" font-weight="normal" textLength="23" lengthAdjust="spacingAndGlyphs">30%</text>
<path d="M248.4 462.4 H287.3" fill="none" stroke="#7f7f7f" stroke-width="2.0" stroke-linejoin="round"/>
<text x="293" y="466" font-size="12.5" text-anchor="start" font-weight="normal" textLength="23" lengthAdjust="spacingAndGlyphs">50%</text>
<path d="M248.4 478.9 H287.3" fill="none" stroke="#000" stroke-width="2" stroke-linejoin="round" stroke-dasharray="2 2"/>
<text x="293" y="482.5" font-size="12.5" text-anchor="start" font-weight="normal" textLength="30.5" lengthAdjust="spacingAndGlyphs">100%</text>
<text x="32.6" y="390" font-size="12.5" text-anchor="start" font-weight="normal" textLength="15.3" lengthAdjust="spacingAndGlyphs">10</text>
<text x="47.3" y="384.6" font-size="7.8" text-anchor="start" font-weight="normal">8</text>
<text x="32.6" y="425.4" font-size="12.5" text-anchor="start" font-weight="normal" textLength="15.3" lengthAdjust="spacingAndGlyphs">10</text>
<text x="47.3" y="420" font-size="7.8" text-anchor="start" font-weight="normal">7</text>
<text x="32.6" y="461" font-size="12.5" text-anchor="start" font-weight="normal" textLength="15.3" lengthAdjust="spacingAndGlyphs">10</text>
<text x="47.3" y="455.6" font-size="7.8" text-anchor="start" font-weight="normal">6</text>
<text x="32.6" y="496.4" font-size="12.5" text-anchor="start" font-weight="normal" textLength="15.3" lengthAdjust="spacingAndGlyphs">10</text>
<text x="47.3" y="491" font-size="7.8" text-anchor="start" font-weight="normal">5</text>
<text x="32.6" y="531.6" font-size="12.5" text-anchor="start" font-weight="normal" textLength="15.3" lengthAdjust="spacingAndGlyphs">10</text>
<text x="47.3" y="526.2" font-size="7.8" text-anchor="start" font-weight="normal">4</text>
<text x="49" y="548.6" font-size="12.5" text-anchor="middle" font-weight="normal">0</text>
<text x="133.4" y="548.6" font-size="12.5" text-anchor="middle" font-weight="normal">100</text>
<text x="219.4" y="548.6" font-size="12.5" text-anchor="middle" font-weight="normal">200</text>
<text x="305.2" y="548.6" font-size="12.5" text-anchor="middle" font-weight="normal">300</text>
<text x="122.8" y="557.8" font-size="12.5" text-anchor="start" font-weight="normal" textLength="122.1" lengthAdjust="spacingAndGlyphs">Electron energy [MeV]</text>
<text x="27" y="406.8" font-size="12.5" text-anchor="start" font-weight="bold">c</text>
<text transform="translate(12.9,528.9) rotate(-90)" font-size="12.5" textLength="88" lengthAdjust="spacingAndGlyphs">Spectral density</text>
<text transform="translate(12.9,438.4) rotate(-90)" font-size="12.5" textLength="46.8" lengthAdjust="spacingAndGlyphs">[1/MeV]</text>
</svg>
</body></html>
